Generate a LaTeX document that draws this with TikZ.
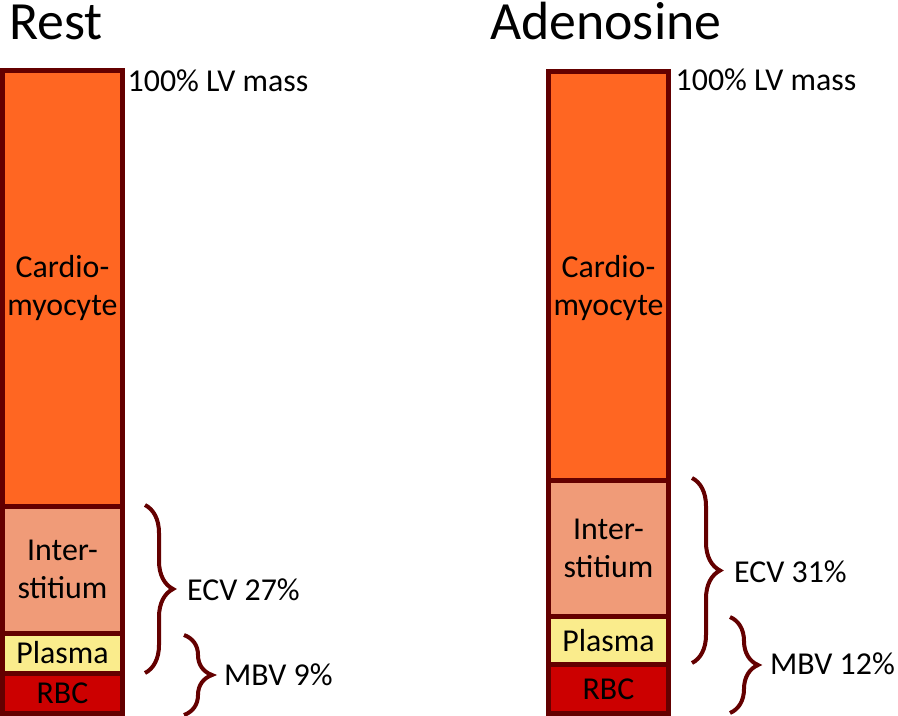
\documentclass[tikz,border=0pt]{standalone}
\usepackage{fontspec}
\setmainfont{Carlito}
\usetikzlibrary{decorations.pathreplacing}
\definecolor{wall}{RGB}{100,0,0}
\definecolor{myocyte}{RGB}{255,102,34}
\definecolor{interst}{RGB}{240,155,120}
\definecolor{plasma}{RGB}{250,236,140}
\definecolor{rbc}{RGB}{204,0,0}
\tikzset{
  seg/.style={draw=wall,line width=5bp,minimum width=120bp,inner sep=0pt,
    align=center,font=\fontsize{32}{38}\selectfont},
  curly/.style={draw=wall,line width=4bp,decorate,
    decoration={brace,amplitude=28bp}},
  sidetext/.style={anchor=west,inner sep=0pt,font=\fontsize{32}{38}\selectfont},
  massnote/.style={anchor=base west,inner sep=0pt,font=\fontsize{32}{38}\selectfont},
  headline/.style={anchor=base west,inner sep=0pt,text height=36bp,
    font=\fontsize{54}{60}\selectfont}
}
\begin{document}
\begin{tikzpicture}[x=1bp,y=-1bp]
  \useasboundingbox (0,0) rectangle (898,716);
%%
  % Node: rest_title
  \node[headline] (rest_title) at (9,39.5) {Rest};
  % Node: ado_title
  \node[headline] (ado_title) at (490,40) {Adenosine};
  % Node: cm_rest
  \node[seg,fill=myocyte,minimum height=435.5bp] (cm_rest) at (62.5,288.25) {Cardio-\\myocyte};
  % Node: is_rest
  \node[seg,fill=interst,minimum height=127bp] (is_rest) at (62.5,569.5) {Inter-\\stitium};
  % Node: pl_rest
  \node[seg,fill=plasma,minimum height=40bp] (pl_rest) at (62.5,653) {Plasma};
  % Node: rbc_rest
  \node[seg,fill=rbc,minimum height=40.5bp] (rbc_rest) at (62.5,693.25) {RBC};
  % Node: cm_ado (text sits lower than the box centre)
  \node[seg,fill=myocyte,minimum height=408.5bp,
    label={[seg,draw=none,fill=none,yshift=-12bp]center:Cardio-\\myocyte}] (cm_ado) at (608.5,275.75) {};
  % Node: is_ado
  \node[seg,fill=interst,minimum height=136bp] (is_ado) at (608.5,548) {Inter-\\stitium};
  % Node: pl_ado
  \node[seg,fill=plasma,minimum height=48.5bp] (pl_ado) at (608.5,640.25) {Plasma};
  % Node: rbc_ado
  \node[seg,fill=rbc,minimum height=49bp] (rbc_ado) at (608.5,689) {RBC};
  % Node: mass_rest
  \node[massnote] (mass_rest) at (127.5,92) {100\% LV mass};
  % Node: mass_ado
  \node[massnote] (mass_ado) at (675.5,91) {100\% LV mass};
%%
  % Brace ends
  \coordinate (ecv_rest_a) at (145,505);
  \coordinate (ecv_rest_b) at (145,673);
  \coordinate (mbv_rest_a) at (184,635);
  \coordinate (mbv_rest_b) at (184,715);
  \coordinate (ecv_ado_a) at (692,478);
  \coordinate (ecv_ado_b) at (692,663);
  \coordinate (mbv_ado_a) at (730,617);
  \coordinate (mbv_ado_b) at (730,713);
  % Edge: ecv_rest braces is_rest and pl_rest
  \draw [curly] (ecv_rest_a) -- (ecv_rest_b);
  % Edge: mbv_rest braces pl_rest and rbc_rest
  \draw [curly] (mbv_rest_a) -- (mbv_rest_b);
  % Edge: ecv_ado braces is_ado and pl_ado
  \draw [curly] (ecv_ado_a) -- (ecv_ado_b);
  % Edge: mbv_ado braces pl_ado and rbc_ado
  \draw [curly] (mbv_ado_a) -- (mbv_ado_b);
  % Node: brace labels
  \node[sidetext] (ecv_rest) at (187,590) {ECV 27\%};
  \node[sidetext] (mbv_rest) at (224,675) {MBV 9\%};
  \node[sidetext] (ecv_ado) at (734,572) {ECV 31\%};
  \node[sidetext] (mbv_ado) at (770,664) {MBV 12\%};
%
\end{tikzpicture}
\end{document}
